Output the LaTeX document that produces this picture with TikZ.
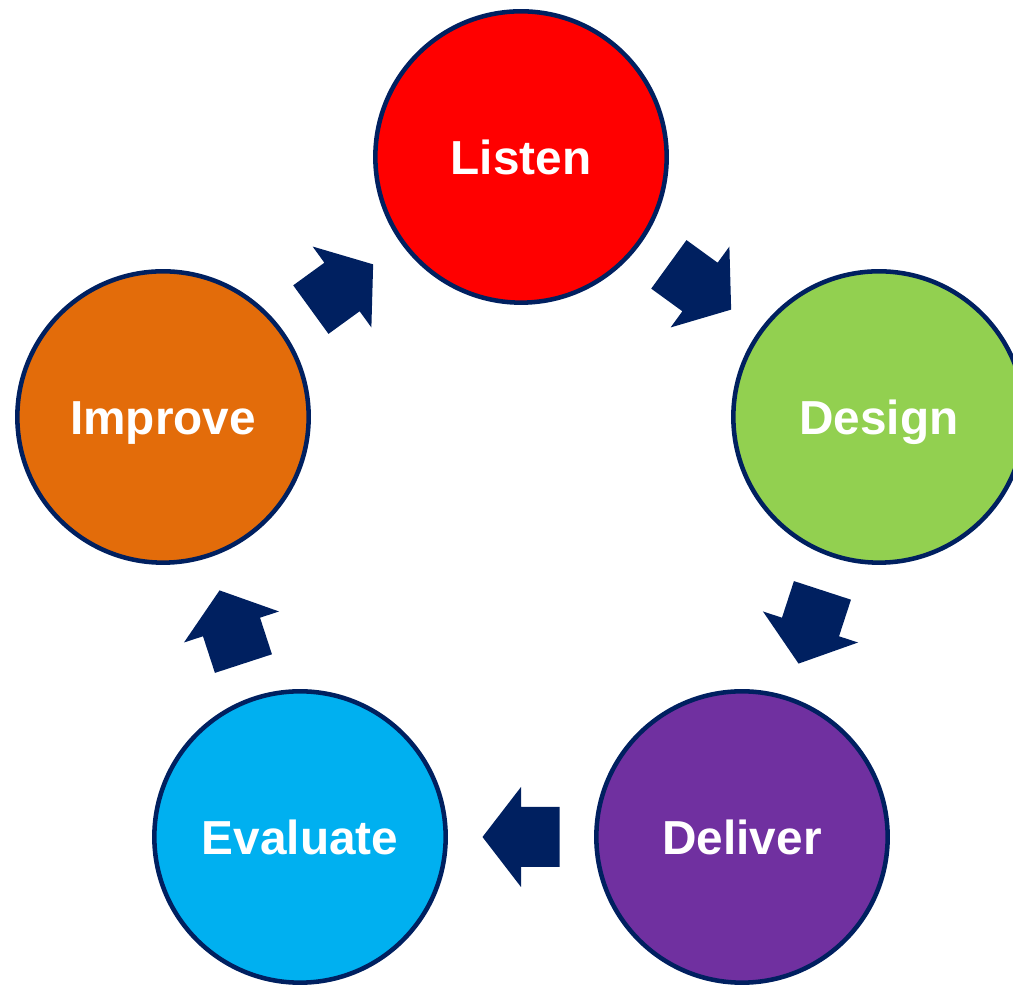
\documentclass[tikz,border=0pt]{standalone}
\usepackage{fontspec}
\setmainfont{Liberation Sans}
\definecolor{navy}{HTML}{002060}
\definecolor{listenred}{HTML}{FF0000}
\definecolor{designgreen}{HTML}{92D050}
\definecolor{deliverpurple}{HTML}{7030A0}
\definecolor{evaluateblue}{HTML}{00B0F0}
\definecolor{improveorange}{HTML}{E36C0A}
\tikzset{
  stage/.style={circle, draw=navy, line width=3.4pt, minimum size=218.5pt, inner sep=0pt,
    text=white, font=\fontsize{35.8}{43}\selectfont\bfseries, text height=25.6pt, text depth=0pt},
  flowarrow/.pic={\fill[navy] (38.5,0) -- (0,50) -- (0,30) -- (-38.5,30) -- (-38.5,-30) -- (0,-30) -- (0,-50) -- cycle;}
}
\begin{document}
\begin{tikzpicture}[x=0.75pt,y=0.75pt]
\clip (0,0) rectangle (1013,987); %set diagram size 1013 x 987

%Shape: Circle [id:listen]
\node [stage, fill=listenred] (listen) at (521,830) {Listen};
%Shape: Circle [id:design]
\node [stage, fill=designgreen] (design) at (879,570) {Design};
%Shape: Circle [id:deliver]
\node [stage, fill=deliverpurple] (deliver) at (742,150) {Deliver};
%Shape: Circle [id:evaluate]
\node [stage, fill=evaluateblue] (evaluate) at (300,150) {Evaluate};
%Shape: Circle [id:improve]
\node [stage, fill=improveorange] (improve) at (163,570) {Improve};

%Block Arrows
\path (listen) -- (design) pic [pos=0.5, sloped, allow upside down] {flowarrow};
\path (design) -- (deliver) pic [pos=0.5, sloped, allow upside down] {flowarrow};
\path (deliver) -- (evaluate) pic [pos=0.5, sloped, allow upside down] {flowarrow};
\path (evaluate) -- (improve) pic [pos=0.5, sloped, allow upside down] {flowarrow};
\path (improve) -- (listen) pic [pos=0.5, sloped, allow upside down] {flowarrow};

\end{tikzpicture}
\end{document}
